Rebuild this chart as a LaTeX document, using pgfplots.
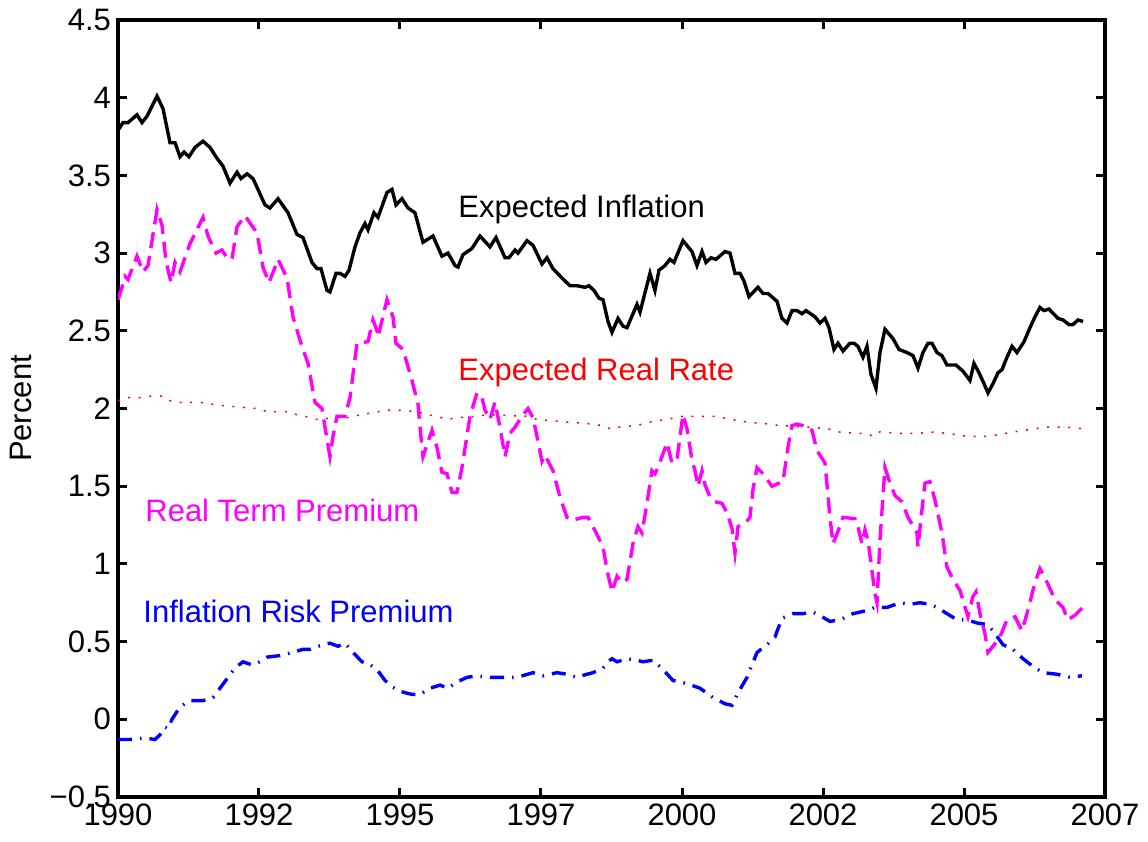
\documentclass[border=0pt]{standalone}
\usepackage{fontspec}
\setmainfont{Liberation Sans}
\usepackage{pgfplots}
\pgfplotsset{compat=1.18}
\definecolor{mag}{RGB}{255,0,255}
\definecolor{rd}{RGB}{255,0,0}
\definecolor{bl}{RGB}{0,0,255}
\begin{document}
\begin{tikzpicture}
\path[use as bounding box] (-59pt,-22.5pt) rectangle (515pt,398.5pt);
\begin{axis}[
  scale only axis,
  width=493.5pt, height=388.5pt,
  xmin=0, xmax=17, ymin=-0.5, ymax=4.5,
  axis line style={line width=1.6pt},
  tick align=inside,
  major tick length=4.5pt,
  every tick/.style={line width=1.5pt, black},
  xtick={0,2.428571,4.857143,7.285714,9.714286,12.142857,14.571429,17},
  xticklabels={1990,1992,1995,1997,2000,2002,2005,2007},
  ytick={-0.5,0,0.5,1,1.5,2,2.5,3,3.5,4,4.5},
  yticklabels={−0.5,0,0.5,1,1.5,2,2.5,3,3.5,4,4.5},
  tick label style={font=\fontsize{15.5}{18}\selectfont},
  ylabel={Percent},
  ylabel style={font=\fontsize{15.5}{18}\selectfont, xshift=0pt, yshift=2pt},
  clip=true,
]
% Expected Inflation
\addplot[black, line width=1.7pt] coordinates {
(0,3.79)(0.086,3.84)(0.172,3.84)(0.327,3.89)(0.413,3.84)(0.499,3.88)(0.672,4.01)(0.775,3.93)(0.896,3.71)(0.982,3.71)
(1.068,3.62)(1.137,3.65)(1.223,3.62)(1.326,3.68)(1.464,3.72)(1.585,3.68)(1.705,3.61)(1.808,3.56)(1.929,3.45)(2.050,3.52)
(2.118,3.48)(2.222,3.51)(2.325,3.48)(2.411,3.41)(2.532,3.31)(2.618,3.29)(2.756,3.35)(2.928,3.26)(3.083,3.12)(3.186,3.10)
(3.341,2.94)(3.428,2.90)(3.496,2.90)(3.600,2.76)(3.651,2.75)(3.755,2.87)(3.824,2.87)(3.910,2.85)(3.979,2.89)(4.082,3.04)
(4.168,3.13)(4.254,3.19)(4.306,3.15)(4.409,3.26)(4.478,3.23)(4.633,3.39)(4.719,3.41)(4.788,3.31)(4.891,3.35)(4.995,3.29)
(5.115,3.26)(5.253,3.07)(5.425,3.11)(5.580,2.98)(5.684,3.00)(5.804,2.92)(5.856,2.91)(5.942,2.99)(6.097,3.03)(6.235,3.11)
(6.407,3.04)(6.511,3.10)(6.666,2.97)(6.734,2.97)(6.838,3.02)(6.889,3.00)(7.044,3.08)(7.148,3.05)(7.303,2.93)(7.389,2.97)
(7.492,2.90)(7.647,2.84)(7.785,2.79)(7.906,2.79)(8.043,2.78)(8.112,2.79)(8.198,2.76)(8.285,2.71)(8.354,2.70)(8.440,2.56)
(8.509,2.49)(8.612,2.58)(8.698,2.53)(8.767,2.52)(8.939,2.67)(8.991,2.62)(9.163,2.87)(9.249,2.76)(9.318,2.89)(9.421,2.92)
(9.507,2.96)(9.576,2.94)(9.731,3.08)(9.886,3.01)(9.972,2.92)(10.059,3.01)(10.127,2.94)(10.214,2.97)(10.300,2.96)(10.455,3.01)
(10.541,3.00)(10.627,2.87)(10.713,2.87)(10.782,2.82)(10.868,2.72)(11.023,2.78)(11.109,2.74)(11.195,2.74)(11.350,2.69)(11.436,2.58)
(11.523,2.55)(11.609,2.63)(11.695,2.63)(11.781,2.61)(11.850,2.63)(12.005,2.59)(12.091,2.55)(12.177,2.58)(12.246,2.52)(12.332,2.38)
(12.401,2.42)(12.487,2.37)(12.608,2.42)(12.677,2.42)(12.745,2.40)(12.831,2.33)(12.900,2.40)(12.969,2.22)(13.055,2.13)(13.124,2.36)
(13.210,2.51)(13.348,2.45)(13.452,2.38)(13.589,2.36)(13.693,2.34)(13.779,2.26)(13.865,2.36)(13.951,2.42)(14.020,2.42)(14.106,2.36)
(14.192,2.34)(14.278,2.28)(14.433,2.28)(14.554,2.24)(14.674,2.18)(14.743,2.29)(14.830,2.23)(14.916,2.16)(14.984,2.10)(15.071,2.16)
(15.157,2.23)(15.226,2.25)(15.312,2.33)(15.398,2.40)(15.484,2.36)(15.605,2.43)(15.708,2.52)(15.794,2.59)(15.880,2.65)(15.949,2.63)
(16.035,2.64)(16.190,2.58)(16.276,2.57)(16.380,2.54)(16.448,2.54)(16.535,2.57)(16.621,2.56)
};
% Expected Real Rate
\addplot[rd, line width=0.75pt, dash pattern=on 1pt off 4.3pt] coordinates {
(0,2.05)(0.172,2.07)(0.379,2.07)(0.586,2.08)(0.758,2.08)(0.896,2.05)(1.068,2.04)(1.412,2.04)(1.757,2.02)(2.067,2.01)
(2.394,2.00)(2.566,1.98)(2.911,1.98)(3.083,1.96)(3.221,1.95)(3.393,1.93)(3.565,1.93)(3.686,1.95)(3.996,1.94)(4.168,1.96)
(4.340,1.97)(4.650,1.99)(4.823,1.99)(5.150,1.98)(5.322,1.96)(5.494,1.95)(5.667,1.93)(5.839,1.94)(6.183,1.95)(6.356,1.96)
(7.044,1.95)(7.217,1.93)(7.492,1.92)(7.837,1.91)(8.164,1.90)(8.336,1.89)(8.474,1.87)(8.612,1.88)(8.939,1.89)(9.111,1.91)
(9.284,1.92)(9.456,1.93)(9.731,1.95)(10.248,1.95)(10.420,1.94)(10.713,1.92)(10.885,1.91)(11.230,1.90)(11.402,1.89)(11.884,1.88)
(12.229,1.87)(12.384,1.85)(12.728,1.84)(12.900,1.84)(13.004,1.82)(13.124,1.85)(13.469,1.84)(13.813,1.84)(13.951,1.85)(14.296,1.84)
(14.468,1.83)(14.640,1.82)(14.967,1.82)(15.140,1.83)(15.295,1.84)(15.450,1.85)(15.622,1.86)(15.794,1.87)(15.966,1.88)(16.311,1.88)
(16.621,1.87)
};
% Real Term Premium
\addplot[mag, line width=1.7pt, dash pattern=on 8pt off 4pt] coordinates {
(0,2.70)(0.069,2.78)(0.121,2.85)(0.172,2.83)(0.327,2.98)(0.431,2.88)(0.517,2.92)(0.672,3.28)(0.758,3.18)(0.827,2.95)
(0.913,2.81)(0.982,2.94)(1.068,2.88)(1.240,3.06)(1.464,3.23)(1.550,3.11)(1.688,3.00)(1.791,3.02)(1.877,2.97)(1.963,2.96)
(2.050,3.17)(2.187,3.24)(2.394,3.13)(2.497,2.91)(2.601,2.81)(2.756,2.96)(2.911,2.84)(3.014,2.59)(3.135,2.44)(3.273,2.29)
(3.393,2.04)(3.514,2.00)(3.565,1.88)(3.651,1.69)(3.703,1.82)(3.772,1.95)(3.910,1.95)(3.996,2.07)(4.116,2.42)(4.306,2.43)
(4.392,2.57)(4.461,2.50)(4.478,2.46)(4.633,2.70)(4.736,2.59)(4.788,2.42)(4.909,2.38)(5.064,2.18)(5.167,2.03)(5.202,1.88)
(5.253,1.69)(5.408,1.86)(5.494,1.75)(5.580,1.59)(5.667,1.58)(5.753,1.46)(5.839,1.46)(5.925,1.62)(6.063,1.95)(6.183,2.10)
(6.269,2.07)(6.321,1.99)(6.407,1.93)(6.493,2.04)(6.579,1.88)(6.666,1.69)(6.752,1.84)(6.838,1.88)(6.958,1.95)(7.062,2.00)
(7.148,1.94)(7.217,1.82)(7.303,1.66)(7.354,1.70)(7.492,1.60)(7.613,1.43)(7.733,1.30)(7.820,1.28)(8.009,1.30)(8.095,1.30)
(8.181,1.24)(8.302,1.15)(8.354,1.11)(8.423,0.96)(8.509,0.82)(8.595,0.92)(8.681,0.88)(8.767,0.90)(8.870,1.13)(8.956,1.24)
(9.025,1.20)(9.111,1.39)(9.197,1.60)(9.249,1.58)(9.301,1.62)(9.456,1.78)(9.542,1.65)(9.628,1.67)(9.680,1.82)(9.731,1.96)
(9.800,1.87)(9.886,1.67)(9.938,1.60)(9.990,1.50)(10.059,1.60)(10.110,1.51)(10.196,1.43)(10.282,1.40)(10.403,1.39)(10.489,1.33)
(10.575,1.23)(10.627,1.07)(10.679,1.24)(10.799,1.26)(10.885,1.30)(10.937,1.48)(11.006,1.62)(11.109,1.58)(11.264,1.50)(11.454,1.53)
(11.540,1.75)(11.609,1.89)(11.695,1.90)(11.798,1.89)(11.953,1.86)(12.039,1.73)(12.177,1.65)(12.263,1.30)(12.315,1.13)(12.401,1.21)
(12.487,1.30)(12.694,1.29)(12.745,1.24)(12.814,1.13)(12.866,1.22)(12.918,1.15)(13.038,0.81)(13.073,0.75)(13.124,1.15)(13.210,1.62)
(13.297,1.52)(13.383,1.44)(13.503,1.40)(13.607,1.30)(13.762,1.20)(13.779,1.11)(13.848,1.35)(13.899,1.52)(13.986,1.53)(14.072,1.41)
(14.192,1.20)(14.278,0.98)(14.382,0.90)(14.502,0.83)(14.640,0.66)(14.726,0.79)(14.778,0.82)(14.847,0.68)(14.933,0.55)(14.984,0.43)
(15.071,0.47)(15.191,0.53)(15.312,0.64)(15.450,0.66)(15.570,0.57)(15.656,0.68)(15.794,0.88)(15.880,0.97)(15.966,0.91)(16.139,0.77)
(16.276,0.72)(16.362,0.64)(16.483,0.67)(16.621,0.72)
};
% Inflation Risk Premium
\addplot[bl, line width=1.7pt, dash pattern=on 7pt off 4pt on 0.8pt off 4pt] coordinates {
(0,-0.13)(0.207,-0.13)(0.465,-0.12)(0.637,-0.13)(0.723,-0.10)(0.809,-0.05)(0.861,-0.06)(0.930,0.00)(1.068,0.08)(1.240,0.12)
(1.464,0.12)(1.636,0.14)(1.757,0.20)(1.895,0.27)(2.015,0.33)(2.153,0.37)(2.308,0.35)(2.394,0.36)(2.566,0.40)(2.790,0.41)
(2.997,0.43)(3.186,0.45)(3.307,0.45)(3.445,0.47)(3.651,0.49)(3.789,0.47)(3.910,0.49)(4.048,0.43)(4.203,0.37)(4.306,0.36)
(4.461,0.32)(4.599,0.25)(4.719,0.21)(4.857,0.18)(5.064,0.16)(5.202,0.16)(5.374,0.20)(5.546,0.22)(5.684,0.20)(5.839,0.24)
(6.011,0.27)(6.183,0.28)(6.407,0.27)(6.631,0.27)(6.872,0.27)(7.148,0.30)(7.320,0.28)(7.561,0.30)(7.733,0.29)(7.906,0.27)
(8.078,0.29)(8.181,0.30)(8.354,0.33)(8.474,0.38)(8.509,0.39)(8.595,0.37)(8.767,0.39)(8.939,0.38)(9.042,0.37)(9.215,0.38)
(9.387,0.32)(9.559,0.25)(9.800,0.23)(10.024,0.20)(10.248,0.14)(10.455,0.10)(10.575,0.09)(10.679,0.17)(10.834,0.27)(11.006,0.43)
(11.178,0.48)(11.316,0.53)(11.436,0.65)(11.626,0.68)(11.798,0.68)(11.970,0.69)(12.125,0.66)(12.263,0.63)(12.435,0.64)(12.659,0.68)
(12.900,0.70)(13.038,0.72)(13.245,0.72)(13.469,0.75)(13.641,0.74)(13.813,0.75)(13.986,0.74)(14.106,0.72)(14.278,0.68)(14.451,0.64)
(14.623,0.64)(14.795,0.62)(14.967,0.61)(15.071,0.57)(15.243,0.48)(15.415,0.45)(15.587,0.39)(15.760,0.34)(15.932,0.30)(16.173,0.29)
(16.397,0.27)(16.604,0.28)
};
\node[anchor=base west, inner sep=0pt, font=\fontsize{15.5}{18}\selectfont, black] at (axis cs:5.856,3.23) {Expected Inflation};
\node[anchor=base west, inner sep=0pt, font=\fontsize{15.5}{18}\selectfont, rd] at (axis cs:5.856,2.177) {Expected Real Rate};
\node[anchor=base west, inner sep=0pt, font=\fontsize{15.5}{18}\selectfont, mag] at (axis cs:0.465,1.276) {Real Term Premium};
\node[anchor=base west, inner sep=0pt, font=\fontsize{15.5}{18}\selectfont, bl] at (axis cs:0.431,0.62) {Inflation Risk Premium};
\end{axis}
\end{tikzpicture}
\end{document}
